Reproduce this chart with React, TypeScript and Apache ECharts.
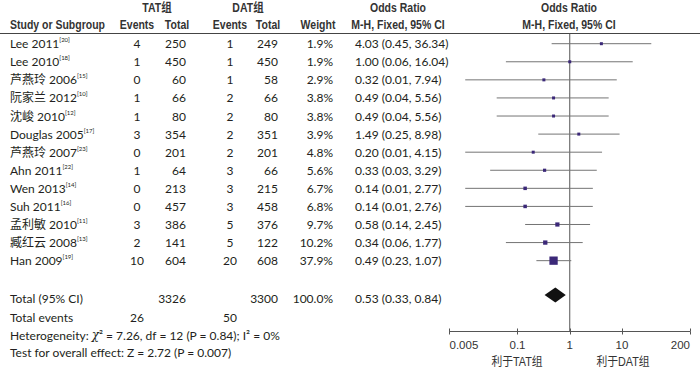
import React, { useEffect, useRef } from "react";
import * as echarts from "echarts";

const studies = ["Lee 2011", "Lee 2010", "芦燕玲 2006", "阮家兰 2012", "沈峻 2010", "Douglas 2005", "芦燕玲 2007", "Ahn 2011", "Wen 2013", "Suh 2011", "孟利敏 2010", "臧红云 2008", "Han 2009"];
const refs = ["[20]", "[18]", "[15]", "[10]", "[12]", "[17]", "[23]", "[22]", "[14]", "[16]", "[11]", "[13]", "[19]"];
const tatEvents = [4, 1, 0, 1, 1, 3, 0, 1, 0, 0, 3, 2, 10];
const tatTotal = [250, 450, 60, 66, 80, 354, 201, 64, 213, 457, 386, 141, 604];
const datEvents = [1, 1, 1, 2, 2, 2, 2, 3, 3, 3, 5, 5, 20];
const datTotal = [249, 450, 58, 66, 80, 351, 201, 66, 215, 458, 376, 122, 608];
const weights = [1.9, 1.9, 2.9, 3.8, 3.8, 3.9, 4.8, 5.6, 6.7, 6.8, 9.7, 10.2, 37.9];
const orMid = [4.03, 1.0, 0.32, 0.49, 0.49, 1.49, 0.2, 0.33, 0.14, 0.14, 0.58, 0.34, 0.49];
const orLow = [0.45, 0.06, 0.01, 0.04, 0.04, 0.25, 0.01, 0.03, 0.01, 0.01, 0.14, 0.06, 0.23];
const orHigh = [36.34, 16.04, 7.94, 5.56, 5.56, 8.98, 4.15, 3.29, 2.77, 2.76, 2.45, 1.77, 1.07];

const pooledOR = 0.53;
const pooledLow = 0.33;
const pooledHigh = 0.84;
const totalWeight = "100.0%";
const heterogeneity = "Heterogeneity: {i|χ}² = 7.26, df = 12 (P = 0.84); I² = 0%";
const overallTest = "Test for overall effect: Z = 2.72 (P = 0.007)";
const xTicks = [0.005, 0.1, 1, 10, 200];
const favourLeft = "利于TAT组";
const favourRight = "利于DAT组";

const BODY = "Lato, 'Noto Sans CJK SC', sans-serif";
const HEAD = "'Liberation Sans', Arial, 'Noto Sans CJK SC', sans-serif";
const TXT = "#231f20";

const GRID_TOP = 33.5;
const GRID_H = 298;
const ROW_H = 18.08;
const Y_MIN = -0.564;
const Y_MAX = Y_MIN + GRID_H / ROW_H;
const TOTAL_ROW = 13.9;

const rowY = (r: number) => GRID_TOP + (r - Y_MIN) * ROW_H;
const fmt = (v: number) => v.toFixed(2);
const sum = (a: number[]) => a.reduce((s, v) => s + v, 0);

export default function App() {
  const ref = useRef<HTMLDivElement>(null);
  useEffect(() => {
    if (!ref.current) return;
    const chart = echarts.init(ref.current, null, { renderer: "svg" });

    const texts: any[] = [];
    const t = (text: string, x: number, y: number, align: string, opts: any = {}, scaleX = 1) => {
      texts.push({
        type: "text",
        x,
        y,
        scaleX,
        silent: true,
        style: {
          text,
          textAlign: align,
          verticalAlign: "middle",
          fill: TXT,
          fontSize: 12,
          fontFamily: BODY,
          ...opts,
        },
      });
    };
    const h = (text: string, x: number, y: number, align: string) =>
      t(text, x, y, align, { fontFamily: HEAD, fontWeight: "bold", fontSize: 12.5, fill: "#333" }, 0.84);

    // headers
    h("TAT组", 157, 8, "center");
    h("DAT组", 248, 8, "center");
    h("Odds Ratio", 398, 8, "center");
    h("Odds Ratio", 569, 8, "center");
    h("Study or Subgroup", 10, 25, "left");
    h("Events", 137, 25, "center");
    h("Total", 177, 25, "center");
    h("Events", 230, 25, "center");
    h("Total", 268, 25, "center");
    h("Weight", 318, 25, "center");
    h("M-H, Fixed, 95% CI", 398, 25, "center");
    h("M-H, Fixed, 95% CI", 569, 25, "center");

    studies.forEach((s, i) => {
      const y = rowY(i);
      texts.push({
        type: "text",
        x: 10,
        y,
        silent: true,
        style: {
          text: `{n|${s}}{s|${refs[i]}}`,
          verticalAlign: "middle",
          rich: {
            n: { fontSize: 12, fontFamily: BODY, fill: TXT, lineHeight: 14 },
            s: { fontSize: 6, fontFamily: BODY, fill: TXT, verticalAlign: "top", lineHeight: 14 },
          },
        },
      });
      t(String(tatEvents[i]), 137, y, "center");
      t(String(tatTotal[i]), 186, y, "right");
      t(String(datEvents[i]), 230, y, "center");
      t(String(datTotal[i]), 278, y, "right");
      t(weights[i].toFixed(1) + "%", 333, y, "right");
      t(`${fmt(orMid[i])} (${fmt(orLow[i])}, ${fmt(orHigh[i])})`, 355, y, "left");
    });

    const yTot = 298;
    t("Total (95% CI)", 10, yTot, "left");
    t(String(sum(tatTotal)), 186, yTot, "right");
    t(String(sum(datTotal)), 278, yTot, "right");
    t(totalWeight, 333, yTot, "right");
    t(`${fmt(pooledOR)} (${fmt(pooledLow)}, ${fmt(pooledHigh)})`, 355, yTot, "left");
    t("Total events", 10, 317, "left");
    t(String(sum(tatEvents)), 137, 317, "center");
    t(String(sum(datEvents)), 230, 317, "center");
    texts.push({
      type: "text",
      x: 10,
      y: 335,
      silent: true,
      style: {
        text: heterogeneity,
        verticalAlign: "middle",
        fill: TXT,
        fontSize: 12,
        fontFamily: BODY,
        rich: { i: { fontStyle: "italic", fontSize: 12, fontFamily: "'DejaVu Serif', serif", fill: TXT } },
      },
    });
    t(overallTest, 10, 352, "left");
    t(favourLeft, 517, 362, "center", { fontFamily: HEAD, fontSize: 12, fill: "#333" }, 0.9);
    t(favourRight, 623, 362, "center", { fontFamily: HEAD, fontSize: 12, fill: "#333" }, 0.9);

    texts.push({
      type: "line",
      silent: true,
      shape: { x1: 0, y1: GRID_TOP, x2: 700, y2: GRID_TOP },
      style: { stroke: "#444", lineWidth: 1 },
    });

    const ciData = studies.map((_, i) => [orLow[i], orHigh[i], orMid[i], i, weights[i]]);

    const baseX = {
      type: "log",
      logBase: 10,
      min: 0.005,
      max: 200,
      position: "bottom",
      splitLine: { show: false },
      minorTick: { show: false },
    };

    chart.setOption({
      animation: false,
      grid: { left: 449.5, width: 240.5, top: GRID_TOP, height: GRID_H, containLabel: false },
      xAxis: [
        {
          ...baseX,
          axisLine: { show: true, onZero: false, lineStyle: { color: "#555", width: 1 } },
          axisTick: { show: true, length: 3, customValues: xTicks, lineStyle: { color: "#555" } },
          axisLabel: {
            show: true,
            customValues: xTicks,
            margin: 8,
            fontSize: 11.5,
            color: "#333",
            fontFamily: HEAD,
            alignMinLabel: "left",
            alignMaxLabel: "right",
            formatter: (v: number) => String(v),
          },
        },
        {
          ...baseX,
          offset: 0,
          axisLine: { show: false, onZero: false },
          axisTick: { show: true, inside: true, length: 3, customValues: xTicks, lineStyle: { color: "#555" } },
          axisLabel: { show: false },
        },
      ],
      yAxis: {
        type: "value",
        min: Y_MIN,
        max: Y_MAX,
        inverse: true,
        show: false,
        splitLine: { show: false },
      },
      series: [
        {
          type: "line",
          data: [
            [1, Y_MIN],
            [1, Y_MAX],
          ],
          showSymbol: false,
          symbol: "none",
          lineStyle: { color: "#555", width: 1 },
          silent: true,
          z: 1,
        },
        {
          type: "custom",
          data: ciData,
          encode: { x: [0, 1, 2], y: 3 },
          z: 2,
          renderItem: (params: any, api: any) => {
            const y = api.value(3);
            const p1 = api.coord([api.value(0), y]);
            const p2 = api.coord([api.value(1), y]);
            const pm = api.coord([api.value(2), y]);
            const s = Math.max(3, 1.35 * Math.sqrt(api.value(4)));
            return {
              type: "group",
              children: [
                {
                  type: "line",
                  shape: { x1: p1[0], y1: p1[1], x2: p2[0], y2: p2[1] },
                  style: { stroke: "#747474", lineWidth: 1 },
                },
                {
                  type: "rect",
                  shape: { x: pm[0] - s / 2, y: pm[1] - s / 2, width: s, height: s },
                  style: { fill: "#3b2878" },
                },
              ],
            };
          },
        },
        {
          type: "custom",
          data: [[pooledLow, pooledHigh, pooledOR, TOTAL_ROW]],
          encode: { x: [0, 1, 2], y: 3 },
          z: 3,
          renderItem: (params: any, api: any) => {
            const y = api.value(3);
            const pl = api.coord([api.value(0), y]);
            const ph = api.coord([api.value(1), y]);
            const pm = api.coord([api.value(2), y]);
            const hh = 7.5;
            return {
              type: "polygon",
              shape: {
                points: [
                  [pl[0], pl[1]],
                  [pm[0], pm[1] - hh],
                  [ph[0], ph[1]],
                  [pm[0], pm[1] + hh],
                ],
              },
              style: { fill: "#111" },
            };
          },
        },
      ],
      graphic: texts,
    });

    return () => chart.dispose();
  }, []);

  return (
    <div
      ref={ref}
      style={{ position: "fixed", left: 0, top: 0, width: 700, height: 370, background: "#fff" }}
    />
  );
}
